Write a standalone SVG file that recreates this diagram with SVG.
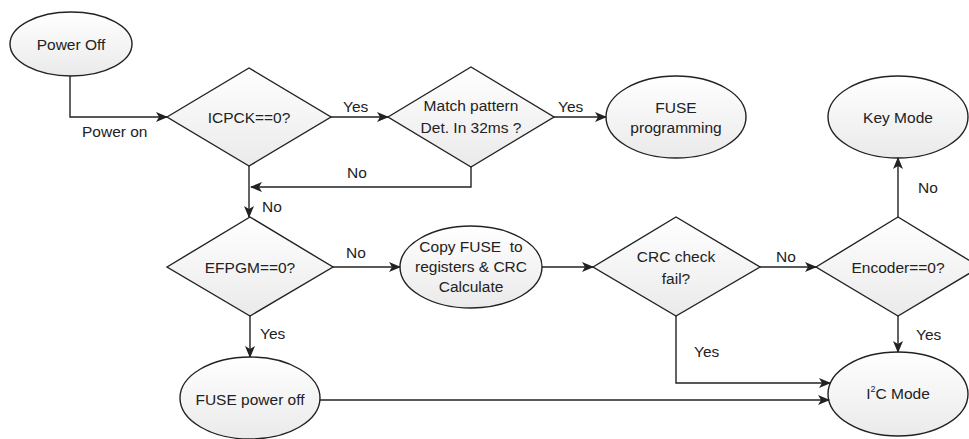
<svg xmlns="http://www.w3.org/2000/svg" width="969" height="439" viewBox="0 0 969 439">
<defs>
<linearGradient id="g" x1="0" y1="0" x2="0" y2="1">
<stop offset="0" stop-color="#ffffff"/>
<stop offset="1" stop-color="#eaeaea"/>
</linearGradient>
<marker id="a" markerWidth="12" markerHeight="10" refX="11" refY="5" orient="auto" markerUnits="userSpaceOnUse">
<path d="M0,0 L12,5 L0,10 L3,5 Z" fill="#222"/>
</marker>
<style>
.s{fill:url(#g);stroke:#222;stroke-width:1.4}
.c{fill:none;stroke:#222;stroke-width:1.4}
text{font-family:"Liberation Sans",Arial,sans-serif;font-size:15.5px;fill:#222}
.m{text-anchor:middle}
</style>
</defs>
<rect width="969" height="439" fill="#fff"/>
<g id="power-off"><ellipse class="s" cx="71" cy="44" rx="61" ry="32"/><text class="m" x="71" y="50">Power Off</text></g>
<g id="icpck"><polygon class="s" points="167,117 249,68 331,117 249,166"/><text class="m" x="249" y="123">ICPCK==0?</text></g>
<g id="match"><polygon class="s" points="388,117 471,67 554,117 471,167"/><text class="m" x="471" y="111">Match pattern</text><text class="m" x="471" y="133">Det. In 32ms ?</text></g>
<g id="fuse-prog"><ellipse class="s" cx="676" cy="117" rx="70" ry="41"/><text class="m" x="676" y="113">FUSE</text><text class="m" x="676" y="133">programming</text></g>
<g id="key-mode"><ellipse class="s" cx="898" cy="117" rx="70" ry="41"/><text class="m" x="898" y="123">Key Mode</text></g>
<g id="efpgm"><polygon class="s" points="167,267 250,217 333,267 250,316"/><text class="m" x="250" y="273">EFPGM==0?</text></g>
<g id="copy"><ellipse class="s" cx="471" cy="267" rx="71" ry="41"/><text class="m" x="471" y="252" xml:space="preserve">Copy FUSE  to</text><text class="m" x="471" y="272">registers &amp; CRC</text><text class="m" x="471" y="292">Calculate</text></g>
<g id="crc"><polygon class="s" points="593,267 676,217 760,267 676,316"/><text class="m" x="676" y="262">CRC check</text><text class="m" x="676" y="284">fail?</text></g>
<g id="encoder"><polygon class="s" points="816,267 898,217 980,267 898,316"/><text class="m" x="898" y="273">Encoder==0?</text></g>
<g id="fuse-off"><ellipse class="s" cx="250" cy="398" rx="70" ry="41"/><text class="m" x="250" y="405">FUSE power off</text></g>
<g id="i2c"><ellipse class="s" cx="898" cy="394" rx="70" ry="42"/><text class="m" x="898" y="399">I<tspan font-size="9" dy="-7">2</tspan><tspan dy="7">C Mode</tspan></text></g>
<g id="connectors">
<path class="c" d="M70,76 V117 H167" marker-end="url(#a)"/>
<path class="c" d="M331,117 H388" marker-end="url(#a)"/>
<path class="c" d="M554,117 H606" marker-end="url(#a)"/>
<path class="c" d="M471,167 V187 H251" marker-end="url(#a)"/>
<path class="c" d="M249,166 V217" marker-end="url(#a)"/>
<path class="c" d="M333,267 H400" marker-end="url(#a)"/>
<path class="c" d="M250,316 V357" marker-end="url(#a)"/>
<path class="c" d="M542,267 H593" marker-end="url(#a)"/>
<path class="c" d="M760,267 H816" marker-end="url(#a)"/>
<path class="c" d="M898,217 V158" marker-end="url(#a)"/>
<path class="c" d="M898,316 V352" marker-end="url(#a)"/>
<path class="c" d="M676,316 V383 H830" marker-end="url(#a)"/>
<path class="c" d="M320,400 H829" marker-end="url(#a)"/>
<text x="82" y="137">Power on</text>
<text x="343" y="112">Yes</text>
<text x="558" y="112">Yes</text>
<text x="347" y="178">No</text>
<text x="262" y="212">No</text>
<text x="346" y="258">No</text>
<text x="260" y="339">Yes</text>
<text x="776" y="262">No</text>
<text x="694" y="357">Yes</text>
<text x="918" y="193">No</text>
<text x="916" y="340">Yes</text>
</g>
</svg>
